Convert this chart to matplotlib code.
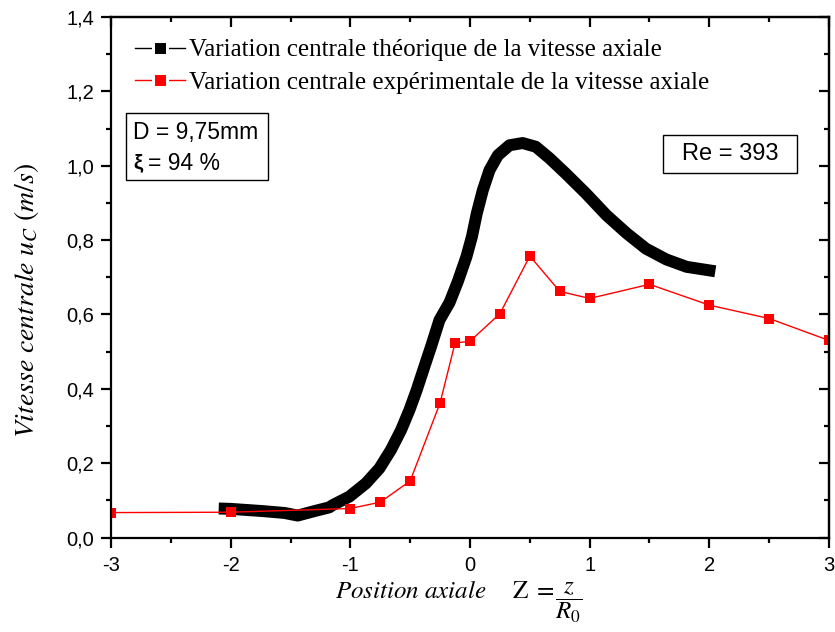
import matplotlib
matplotlib.use("Agg")
import matplotlib.pyplot as plt
from matplotlib.lines import Line2D
from matplotlib.patches import Rectangle
from matplotlib.ticker import MultipleLocator, FuncFormatter

# Theoretical curve
theo_x = [-2.10, -2.0, -1.73, -1.55, -1.44, -1.30, -1.176, -1.148, -1.008, -0.869,
          -0.757, -0.66, -0.576, -0.506, -0.445, -0.39, -0.325, -0.255, -0.171,
          -0.10, -0.03, 0.016, 0.057, 0.107, 0.163, 0.233, 0.33, 0.44, 0.55,
          0.665, 0.80, 0.97, 1.14, 1.31, 1.47, 1.64, 1.81, 2.05]
theo_y = [0.078, 0.077, 0.071, 0.066, 0.059, 0.071, 0.081, 0.087, 0.110, 0.146,
          0.186, 0.236, 0.289, 0.343, 0.397, 0.451, 0.514, 0.585, 0.632,
          0.690, 0.755, 0.809, 0.872, 0.934, 0.988, 1.028, 1.055, 1.061, 1.051,
          1.020, 0.979, 0.925, 0.867, 0.818, 0.777, 0.748, 0.728, 0.716]

# Experimental data
exp_x = [-3, -2, -1, -0.75, -0.5, -0.25, -0.125, 0, 0.25, 0.5, 0.75, 1.0, 1.5, 2.0, 2.5, 3.0]
exp_y = [0.067, 0.068, 0.078, 0.095, 0.152, 0.362, 0.523, 0.528, 0.602, 0.757,
         0.662, 0.643, 0.681, 0.625, 0.589, 0.530]

legend_labels = ["Variation centrale théorique de la vitesse axiale",
                 "Variation centrale expérimentale de la vitesse axiale"]

plt.rcParams['mathtext.fontset'] = 'stix'

W, H = 835, 632
fig = plt.figure(figsize=(W / 100, H / 100), dpi=100)
ax = fig.add_axes([111/W, (H-537.5)/H, 718/W, 520.5/H])

ax.plot(theo_x, theo_y, color='black', lw=8.6, solid_capstyle='butt', solid_joinstyle='round')
ax.plot(exp_x, exp_y, color='red', lw=1.0, marker='s', markersize=7, markeredgewidth=0)

ax.set_xlim(-3, 3)
ax.set_ylim(0, 1.4)
ax.xaxis.set_major_locator(MultipleLocator(1))
ax.xaxis.set_minor_locator(MultipleLocator(0.5))
ax.yaxis.set_major_locator(MultipleLocator(0.2))
ax.yaxis.set_minor_locator(MultipleLocator(0.1))
ax.xaxis.set_major_formatter(FuncFormatter(lambda v, p: f"{v:.0f}"))
ax.yaxis.set_major_formatter(FuncFormatter(lambda v, p: f"{v:.1f}".replace('.', ',')))

for s in ax.spines.values():
    s.set_linewidth(1.6)
ax.tick_params(which='major', direction='out', length=7, width=1.6, labelsize=14.5)
ax.tick_params(axis='y', which='major', pad=5)
ax.tick_params(axis='x', which='major', pad=6)
ax.tick_params(which='minor', direction='out', length=3.5, width=1.6)
for lab in ax.get_xticklabels() + ax.get_yticklabels():
    lab.set_family('Liberation Sans')

secx = ax.secondary_xaxis('top')
secx.xaxis.set_major_locator(MultipleLocator(1))
secx.xaxis.set_minor_locator(MultipleLocator(0.5))
secx.tick_params(which='major', direction='in', length=7, width=1.6, labeltop=False)
secx.tick_params(which='minor', direction='in', length=3.5, width=1.6)
secx.spines['top'].set_linewidth(1.6)

secy = ax.secondary_yaxis('right')
secy.yaxis.set_major_locator(MultipleLocator(0.2))
secy.yaxis.set_minor_locator(MultipleLocator(0.1))
secy.tick_params(which='major', direction='in', length=7, width=1.6, labelright=False)
secy.tick_params(which='minor', direction='in', length=3.5, width=1.6)
secy.spines['right'].set_linewidth(1.6)

# X label (three pieces, as in the reference)
fig.text(335/W, (H-598)/H, r'$\mathit{Position\ axiale}$', fontsize=18,
         ha='left', va='baseline')
fig.text(512/W, (H-598)/H, r'$\mathrm{Z}\ =$', fontsize=18, ha='left', va='baseline')
fig.text(569/W, (H-606)/H, r'$\dfrac{z}{R_0}$', fontsize=18, ha='center', va='baseline')

ax.set_ylabel(r'$\mathit{Vitesse\ centrale}\ u_C\ (m/s)$', fontsize=20)
ax.yaxis.set_label_coords(-0.0975, 0.456)

handles = [Line2D([], [], color='black', lw=1, marker='s', markersize=9.5,
                  markerfacecolor='black', markeredgecolor='white', markeredgewidth=2.2),
           Line2D([], [], color='red', lw=1, marker='s', markersize=9.5,
                  markerfacecolor='red', markeredgecolor='white', markeredgewidth=2.2)]
leg = ax.legend(handles, legend_labels, loc='upper left', bbox_to_anchor=(0.0334, 0.958),
                frameon=False, handlelength=2.0, handletextpad=0.15, labelspacing=0.4,
                borderaxespad=0, borderpad=0,
                prop={'family': 'Liberation Serif', 'size': 18})

# Parameter boxes
ax.add_patch(Rectangle((0.0209, 0.6868), 0.1978, 0.1288, transform=ax.transAxes,
                       fill=False, ec='black', lw=1.0))
ax.text(0.0306, 0.779, "D = 9,75mm", transform=ax.transAxes, fontsize=16.5,
        family='Liberation Sans', va='center', ha='left')
ax.text(0.0306, 0.7195, "ξ", transform=ax.transAxes, fontsize=15, fontweight='bold',
        family='Liberation Sans', va='center', ha='left')
ax.text(0.0515, 0.7195, "= 94 %", transform=ax.transAxes, fontsize=16.5,
        family='Liberation Sans', va='center', ha='left')

ax.add_patch(Rectangle((0.7688, 0.7003), 0.1866, 0.0730, transform=ax.transAxes,
                       fill=False, ec='black', lw=1.0))
ax.text(0.862, 0.7368, "Re = 393", transform=ax.transAxes, fontsize=17,
        family='Liberation Sans', va='center', ha='center')

fig.savefig('out.png', dpi=100)
